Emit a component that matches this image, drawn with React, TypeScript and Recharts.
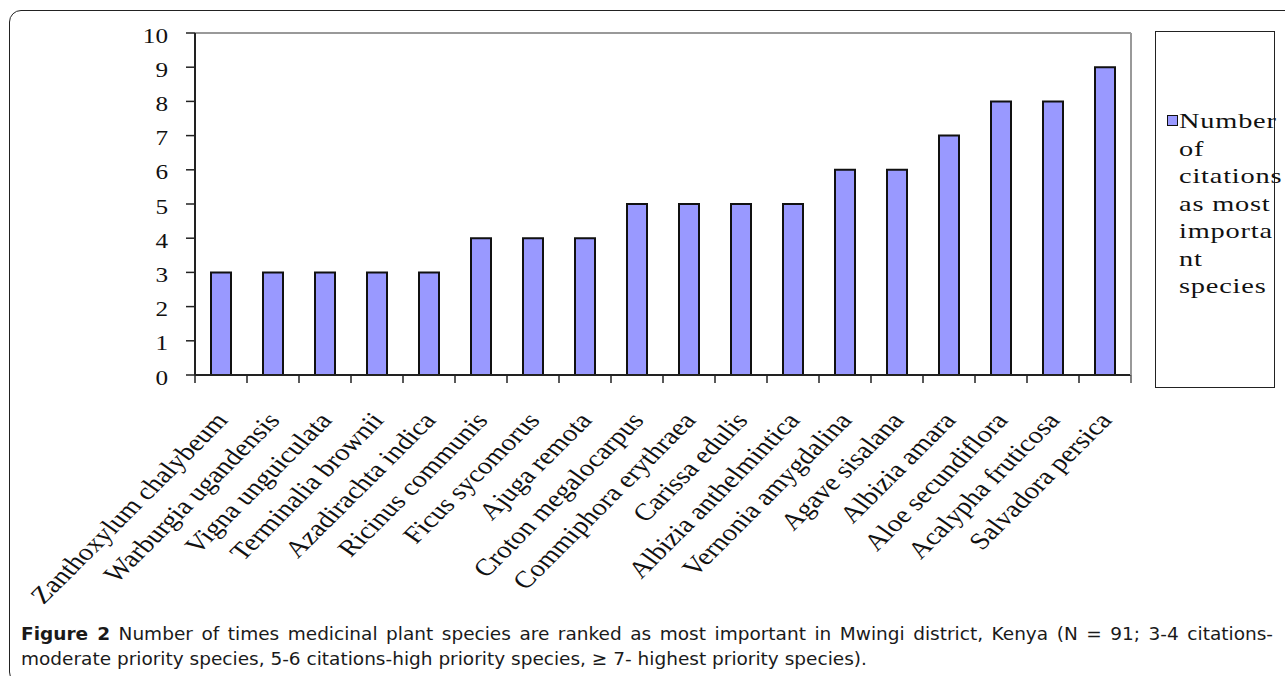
import React from 'react';
import { BarChart, Bar, XAxis, YAxis, ReferenceLine, Legend } from 'recharts';

// species ordered as in the figure, left to right
const species = [
  'Zanthoxylum chalybeum',
  'Warburgia ugandensis',
  'Vigna unguiculata',
  'Terminalia brownii',
  'Azadirachta indica',
  'Ricinus communis',
  'Ficus sycomorus',
  'Ajuga remota',
  'Croton megalocarpus',
  'Commiphora erythraea',
  'Carissa edulis',
  'Albizia anthelmintica',
  'Vernonia amygdalina',
  'Agave sisalana',
  'Albizia amara',
  'Aloe secundiflora',
  'Acalypha fruticosa',
  'Salvadora persica',
];
const citations = [3, 3, 3, 3, 3, 4, 4, 4, 5, 5, 5, 5, 6, 6, 7, 8, 8, 9];
const yTicks = [0, 1, 2, 3, 4, 5, 6, 7, 8, 9, 10];

const seriesName = 'Number of citations as most important species';
const legendLines = ['Number', 'of', 'citations', 'as most', 'importa', 'nt', 'species'];

const captionBold = 'Figure 2';
const captionLine1 =
  ' Number of times medicinal plant species are ranked as most important in Mwingi district, Kenya (N = 91; 3-4 citations-';
const captionLine2 =
  'moderate priority species, 5-6 citations-high priority species, \u2265 7- highest priority species).';

const data = species.map((name, i) => ({ name, value: citations[i] }));

const W = 1285;
const H = 676;
const plotLeft = 195;
const plotRight = 1131;
const plotTop = 33;
const plotBottom = 375;
const yAxisWidth = 60;
const xAxisHeight = 60;
const serif = '"Liberation Serif", "Times New Roman", serif';
const sans = '"DejaVu Sans", "Open Sans", sans-serif';

function CountTick({ x, y, payload }: any) {
  return (
    <text
      transform={`translate(${x},${y}) scale(1.2,1)`}
      dy={9.5}
      textAnchor="end"
      fontFamily={serif}
      fontSize={21}
      fill="#111"
    >
      {payload.value}
    </text>
  );
}

function SpeciesTick({ x, y, payload, index }: any) {
  const band = (plotRight - plotLeft) / species.length;
  const left = x - band / 2;
  return (
    <g>
      <line x1={left} y1={y} x2={left} y2={y + 8} stroke="#222" strokeWidth={1.5} />
      {index === species.length - 1 && (
        <line x1={x + band / 2} y1={y} x2={x + band / 2} y2={y + 8} stroke="#555" strokeWidth={1.5} />
      )}
      <text
        transform={`translate(${x + 8},${y + 46}) scale(1.2,1) rotate(-50)`}
        textAnchor="end"
        fontFamily={serif}
        fontSize={24}
        fill="#111"
      >
        {payload.value}
      </text>
    </g>
  );
}

function LegendBox(props: any) {
  const entry = props.payload && props.payload[0];
  const color = entry ? entry.color : '#9999ff';
  return (
    <div
      style={{
        width: 120,
        height: 357,
        boxSizing: 'border-box',
        border: '1.5px solid #222',
        position: 'relative',
        color: '#111',
      }}
    >
      <span
        style={{
          position: 'absolute',
          left: 10.5,
          top: 82.5,
          width: 11,
          height: 11,
          boxSizing: 'border-box',
          background: color,
          border: '1.5px solid #111',
        }}
      />
      {legendLines.map((line, i) => (
        <div
          key={line}
          style={{
            position: 'absolute',
            left: 22.5,
            top: 79 + i * 27.5,
            fontFamily: serif,
            fontSize: 21,
            lineHeight: '20px',
            whiteSpace: 'pre',
            transform: 'scaleX(1.35)',
            transformOrigin: 'left',
            letterSpacing: 0.6,
          }}
        >
          {line}
        </div>
      ))}
    </div>
  );
}

export default function App() {
  return (
    <div
      style={{
        position: 'absolute',
        left: 0,
        top: 0,
        width: W,
        height: H,
        overflow: 'hidden',
        background: '#fff',
      }}
    >
      <div
        style={{
          position: 'absolute',
          left: 9,
          top: 10,
          width: 1320,
          height: 674,
          boxSizing: 'border-box',
          border: '1.5px solid #222',
          borderRadius: 12,
        }}
      />
      <div style={{ position: 'absolute', left: 0, top: 0 }}>
        <BarChart
          width={W}
          height={H}
          data={data}
          margin={{
            top: plotTop,
            left: plotLeft - yAxisWidth,
            right: W - plotRight - 1,
            bottom: H - plotBottom - xAxisHeight,
          }}
        >
          <XAxis
            dataKey="name"
            interval={0}
            height={xAxisHeight}
            tickLine={false}
            tickSize={0}
            tickMargin={0}
            axisLine={{ stroke: '#222', strokeWidth: 2 }}
            tick={<SpeciesTick />}
          />
          <YAxis
            yAxisId="left"
            width={yAxisWidth}
            domain={[0, 10]}
            ticks={yTicks}
            interval={0}
            tickSize={9}
            tickMargin={18}
            axisLine={{ stroke: '#222', strokeWidth: 2 }}
            tickLine={{ stroke: '#222', strokeWidth: 1.5 }}
            tick={<CountTick />}
          />
          <YAxis
            yAxisId="right"
            orientation="right"
            width={1}
            domain={[0, 10]}
            tick={false}
            tickLine={false}
            axisLine={{ stroke: '#999', strokeWidth: 2 }}
          />
          <ReferenceLine yAxisId="left" y={10} stroke="#999" strokeWidth={2} />
          <Legend
            layout="horizontal"
            verticalAlign="middle"
            align="center"
            wrapperStyle={{ position: 'absolute', left: 1155, top: 31, width: 120, height: 357 }}
            content={LegendBox}
          />
          <Bar
            yAxisId="left"
            dataKey="value"
            name={seriesName}
            fill="#9999ff"
            stroke="#111"
            strokeWidth={2}
            barSize={20}
            isAnimationActive={false}
          />
        </BarChart>
      </div>
      <div
        style={{
          position: 'absolute',
          left: 21,
          top: 621,
          width: 1252,
          fontFamily: sans,
          fontSize: 18.5,
          lineHeight: '25px',
          color: '#1a1a1a',
          textAlign: 'justify',
          textAlignLast: 'justify',
          whiteSpace: 'nowrap',
        }}
      >
        <b>{captionBold}</b>
        {captionLine1}
      </div>
      <div
        style={{
          position: 'absolute',
          left: 21,
          top: 646,
          fontFamily: sans,
          fontSize: 18.5,
          lineHeight: '25px',
          color: '#1a1a1a',
          whiteSpace: 'nowrap',
        }}
      >
        {captionLine2}
      </div>
    </div>
  );
}
